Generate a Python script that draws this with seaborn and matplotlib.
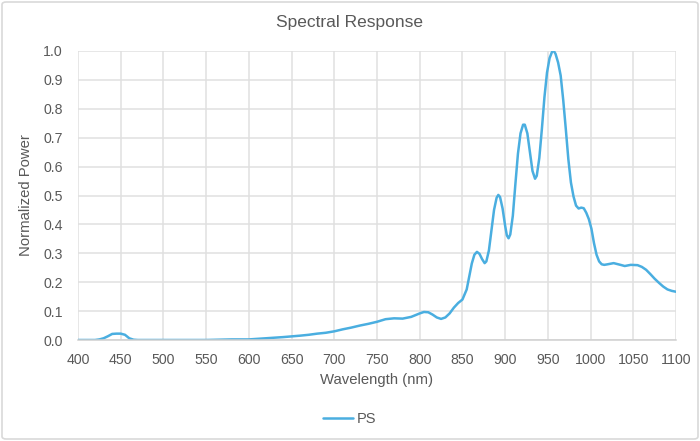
import matplotlib
matplotlib.use("Agg")
import matplotlib.pyplot as plt
import seaborn as sns
import pandas as pd
from matplotlib.patches import FancyBboxPatch

wavelength = [400, 410, 420, 425, 430, 435, 440, 445, 450, 455, 460, 465, 470, 500, 550,
              580, 600, 620, 640, 660, 670, 680, 690, 700, 710, 720, 730, 740, 750, 760,
              770, 780, 790, 800, 805, 810, 815, 820, 825, 830, 835, 840, 845, 850, 855,
              858, 861, 864, 867, 870, 873, 876, 878, 881, 884, 887, 890, 892, 894, 897,
              900, 902, 904, 906, 909, 912, 915, 918, 921, 923, 926, 929, 932, 935, 937,
              940, 943, 946, 949, 952, 955, 957, 959, 962, 965, 968, 971, 974, 977, 980,
              983, 986, 989, 992, 995, 998, 1001, 1004, 1007, 1010, 1013, 1016, 1020, 1027,
              1035, 1040, 1047, 1055, 1060, 1065, 1070, 1075, 1080, 1085, 1090, 1095, 1100]
power = [0.000, 0.000, 0.000, 0.002, 0.006, 0.013, 0.021, 0.022, 0.022, 0.018, 0.006, 0.001,
         0.000, 0.000, 0.000, 0.002, 0.002, 0.006, 0.010, 0.015, 0.018, 0.022, 0.025, 0.030,
         0.037, 0.043, 0.050, 0.056, 0.063, 0.072, 0.075, 0.074, 0.080, 0.092, 0.097, 0.096,
         0.088, 0.078, 0.073, 0.078, 0.092, 0.112, 0.128, 0.140, 0.175,
         0.220, 0.265, 0.295, 0.305, 0.298, 0.280, 0.266, 0.272, 0.310, 0.380, 0.450, 0.492,
         0.502, 0.495, 0.455, 0.395, 0.362, 0.352, 0.365, 0.430, 0.540, 0.645, 0.715, 0.745,
         0.745, 0.715, 0.650, 0.585, 0.558, 0.568, 0.630, 0.730, 0.840, 0.925, 0.975, 0.998,
         1.000, 0.990, 0.960, 0.915, 0.830, 0.730, 0.625, 0.545, 0.497, 0.465, 0.455, 0.458,
         0.456, 0.440, 0.418, 0.385, 0.335, 0.295, 0.272, 0.262, 0.260, 0.262, 0.266,
         0.260, 0.256, 0.260, 0.259, 0.253, 0.243, 0.228, 0.212, 0.198, 0.185, 0.175, 0.170,
         0.167]
series_name = "PS"
x_ticks = list(range(400, 1101, 50))
y_ticks = [0.0, 0.1, 0.2, 0.3, 0.4, 0.5, 0.6, 0.7, 0.8, 0.9, 1.0]

df = pd.DataFrame({"Wavelength": wavelength, "Power": power, "Series": series_name})

sns.set_theme(style="whitegrid")
plt.rcParams["font.family"] = ["Liberation Sans", "DejaVu Sans"]
text_color = "#595959"
grid_color = "#e0e0e0"

fig = plt.figure(figsize=(7, 4.41), dpi=100)
ax = fig.add_axes([78 / 700, 1 - 340 / 441, (676 - 78) / 700, (340 - 51) / 441])

sns.lineplot(data=df, x="Wavelength", y="Power", hue="Series", palette=["#4aaee0"],
             linewidth=1.8, ax=ax, legend=True)

ax.set_xlim(400, 1100)
ax.set_ylim(0, 1.0)
ax.set_xticks(x_ticks)
ax.set_yticks(y_ticks)
ax.set_yticklabels([f"{v:.1f}" for v in y_ticks])
ax.tick_params(axis="both", colors=text_color, labelsize=10.2, length=0)
ax.tick_params(axis="x", pad=9)
ax.tick_params(axis="y", pad=11)
ax.grid(True, color=grid_color, linewidth=1.1)
for s in ax.spines.values():
    s.set_visible(False)
ax.spines["bottom"].set_visible(True)
ax.spines["bottom"].set_color("#d0d0d0")
ax.spines["bottom"].set_linewidth(1.1)

ax.set_xlabel("Wavelength (nm)", color=text_color, fontsize=10.7, labelpad=5)
ax.set_ylabel("Normalized Power", color=text_color, fontsize=10.7, labelpad=7)
fig.text(0.5, 1 - 22 / 441, "Spectral Response", ha="center", va="center",
         color=text_color, fontsize=12.5)

ax.legend_.remove()
handles, labels = ax.get_legend_handles_labels()
fig.legend(handles, labels, loc="center", bbox_to_anchor=(0.5, 1 - 419 / 441),
           frameon=False, fontsize=10.5, labelcolor=text_color, handlelength=2.0,
           handletextpad=0.3)

border = FancyBboxPatch((2 / 700, 2 / 441), 696 / 700, 437 / 441,
                        boxstyle="round,pad=0,rounding_size=0.006",
                        transform=fig.transFigure, fill=False,
                        edgecolor="#d9d9d9", linewidth=1.2)
fig.patches.append(border)

fig.savefig("out.png", dpi=100)
